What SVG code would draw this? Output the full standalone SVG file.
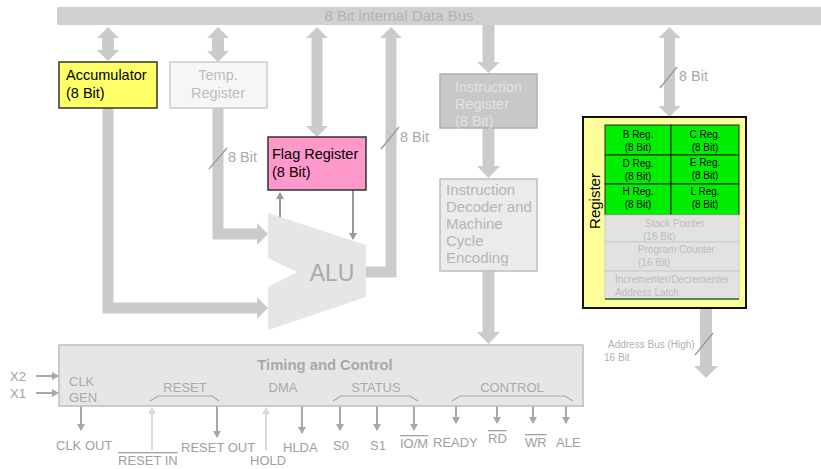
<svg xmlns="http://www.w3.org/2000/svg" width="821" height="469" viewBox="0 0 821 469">
<defs>
<marker id="ah" markerWidth="8" markerHeight="8" refX="6" refY="4" orient="auto" markerUnits="userSpaceOnUse"><path d="M0,0 L7,4 L0,8 z" fill="#a8a8a8"/></marker>
<marker id="ahl" markerWidth="8" markerHeight="8" refX="6" refY="4" orient="auto" markerUnits="userSpaceOnUse"><path d="M0,0 L7,4 L0,8 z" fill="#dadada"/></marker>
<marker id="ahd" markerWidth="8" markerHeight="8" refX="6" refY="4" orient="auto" markerUnits="userSpaceOnUse"><path d="M0,0 L7,4 L0,8 z" fill="#999"/></marker>
</defs>
<style>
text{font-family:"Liberation Sans",Arial,sans-serif}
.big{fill:#cbcbcb}
.bigs{fill:none;stroke:#cbcbcb;stroke-width:11;stroke-linejoin:miter}
.lbl{font-size:13px;fill:#aaaaaa}
.lbl2{font-size:14.5px;fill:#aaaaaa}
.blk{font-size:14.5px;fill:#000}
.sm{font-size:10px;fill:#000}
.smg{font-size:10px;fill:#bdbdbd}
.pin{stroke:#a8a8a8;stroke-width:2;fill:none;marker-end:url(#ah)}
.pinl{stroke:#dadada;stroke-width:2;fill:none;marker-end:url(#ahl)}
.brace{stroke:#aaaaaa;stroke-width:1.2;fill:none}
.slash{stroke:#999;stroke-width:1.3}
.g{fill:#00ee00;stroke:#222;stroke-width:1}
.gr{fill:#e2e2e2;stroke:#cccccc;stroke-width:1}
</style>

<g id="connectors">
  <polygon class="big" points="108,27 119,38 114,38 114,50 119,50 108,61 97,50 102,50 102,38 97,38"/>
  <polygon class="big" points="218,27 229,38 224,38 224,51 229,51 218,62 207,51 212,51 212,38 207,38"/>
  <polygon class="big" points="317,27 328,38 322.5,38 322.5,126 328,126 317,137 306,126 311.5,126 311.5,38 306,38"/>
  <polyline class="bigs" points="366,272 391,272 391,37"/>
  <polygon class="big" points="380,38 402,38 391,27"/>
  <polyline class="bigs" points="108,108 108,308 258,308"/>
  <polygon class="big" points="257,297 257,319 268,308"/>
  <polyline class="bigs" points="218,108 218,234 258,234"/>
  <polygon class="big" points="257,223 257,245 268,234"/>
  <rect class="big" x="482.5" y="25" width="12" height="38"/>
  <polygon class="big" points="477,62 500,62 488.5,73"/>
  <rect class="big" x="482.5" y="128" width="12" height="40"/>
  <polygon class="big" points="477,166 500,166 488.5,178"/>
  <rect class="big" x="482.5" y="271" width="12" height="62"/>
  <polygon class="big" points="477,332 500,332 488.5,344"/>
  <polygon class="big" points="669.5,27 680.5,38 675,38 675,106 680.5,106 669.5,117 658.5,106 664,106 664,38 658.5,38"/>
  <rect class="big" x="700" y="308" width="12" height="60"/>
  <polygon class="big" points="694,366 718,366 706,378"/>
  <line class="slash" x1="209" y1="169" x2="227" y2="148"/>
  <line class="slash" x1="381" y1="149" x2="399" y2="127"/>
  <line class="slash" x1="660" y1="88" x2="677" y2="67"/>
  <line class="slash" x1="695" y1="355" x2="713" y2="333"/>
  <text class="lbl2" x="228" y="162">8 Bit</text>
  <text class="lbl2" x="400" y="142">8 Bit</text>
  <text class="lbl2" x="679" y="81">8 Bit</text>
  <text class="smg" x="608" y="348" style="fill:#b0b0b0">Address Bus (High)</text>
  <text class="smg" x="604" y="361" style="fill:#b0b0b0">16 Bit</text>
  <line x1="280" y1="218" x2="280" y2="193" stroke="#999" stroke-width="2" marker-end="url(#ahd)"/>
  <line x1="353" y1="190" x2="353" y2="239" stroke="#999" stroke-width="2" marker-end="url(#ahd)"/>
  <line class="pin" x1="36" y1="376" x2="58" y2="376"/>
  <line class="pin" x1="36" y1="393" x2="58" y2="393"/>
  <line class="pin" x1="81" y1="406" x2="81" y2="430"/>
  <line class="pinl" x1="152" y1="450" x2="152" y2="408"/>
  <line class="pin" x1="217" y1="406" x2="217" y2="437"/>
  <line class="pinl" x1="266" y1="450" x2="266" y2="408"/>
  <line class="pin" x1="302" y1="406" x2="302" y2="433"/>
  <line class="pin" x1="340" y1="406" x2="340" y2="430"/>
  <line class="pin" x1="377" y1="406" x2="377" y2="430"/>
  <line class="pin" x1="414" y1="406" x2="414" y2="430"/>
  <line class="pin" x1="456" y1="406" x2="456" y2="423"/>
  <line class="pin" x1="497" y1="406" x2="497" y2="423"/>
  <line class="pin" x1="533" y1="406" x2="533" y2="423"/>
  <line class="pin" x1="566" y1="406" x2="566" y2="423"/>
</g>

<g id="bus">
  <rect x="57" y="7" width="764" height="18" fill="#d0d0d0"/>
  <text x="399" y="21" text-anchor="middle" style="font-size:15px;fill:#b3b3b3">8 Bit internal Data Bus</text>
</g>

<g id="accumulator">
  <rect x="59" y="62" width="98" height="46" fill="#ffff66" stroke="#333" stroke-width="1.5"/>
  <text class="blk" x="66" y="80">Accumulator</text>
  <text class="blk" x="66" y="98">(8 Bit)</text>
</g>

<g id="temp">
  <rect x="170" y="62" width="97" height="46" fill="#f6f6f6" stroke="#cccccc" stroke-width="1.5"/>
  <text class="lbl2" x="218" y="80" text-anchor="middle" style="fill:#bdbdbd">Temp.</text>
  <text class="lbl2" x="218" y="98" text-anchor="middle" style="fill:#bdbdbd">Register</text>
</g>

<g id="flag">
  <rect x="268" y="137" width="98" height="53" fill="#ff99cc" stroke="#333" stroke-width="1.5"/>
  <text class="blk" x="272" y="159">Flag Register</text>
  <text class="blk" x="272" y="177">(8 Bit)</text>
</g>

<g id="alu">
  <polygon points="268,213 366,245 366,297 268,330 268,287 297,272 268,258" fill="#e6e6e6"/>
  <text x="332" y="281" text-anchor="middle" style="font-size:23px;fill:#aaaaaa">ALU</text>
</g>

<g id="ir">
  <rect x="440" y="74" width="97" height="54" fill="#c8c8c8" stroke="#b0b0b0" stroke-width="1.5"/>
  <text class="lbl2" x="455" y="92" style="fill:#e2e2e2">Instruction</text>
  <text class="lbl2" x="455" y="109" style="fill:#e2e2e2">Register</text>
  <text class="lbl2" x="455" y="126" style="fill:#e2e2e2">(8 Bit)</text>
</g>

<g id="decoder">
  <rect x="440" y="179" width="97" height="92" fill="#ebebeb" stroke="#bdbdbd" stroke-width="1.5"/>
  <g style="font-size:15px;fill:#b5b5b5">
  <text x="446" y="195">Instruction</text>
  <text x="446" y="212">Decoder and</text>
  <text x="446" y="229">Machine</text>
  <text x="446" y="246">Cycle</text>
  <text x="446" y="263">Encoding</text>
  </g>
</g>

<g id="register">
  <rect x="583" y="117" width="163" height="191" fill="#ffff99" stroke="#111" stroke-width="2"/>
  <text class="blk" transform="translate(600,201) rotate(-90)" text-anchor="middle" style="font-size:15px">Register</text>
  <rect class="g" x="605" y="125" width="66" height="30"/>
  <rect class="g" x="671" y="125" width="68" height="30"/>
  <rect class="g" x="605" y="155" width="66" height="29"/>
  <rect class="g" x="671" y="155" width="68" height="29"/>
  <rect class="g" x="605" y="184" width="66" height="31"/>
  <rect class="g" x="671" y="184" width="68" height="31"/>
  <text class="sm" x="638" y="138" text-anchor="middle">B Reg.</text>
  <text class="sm" x="638" y="151" text-anchor="middle">(8 Bit)</text>
  <text class="sm" x="705" y="138" text-anchor="middle">C Reg.</text>
  <text class="sm" x="705" y="151" text-anchor="middle">(8 Bit)</text>
  <text class="sm" x="638" y="167" text-anchor="middle">D Reg.</text>
  <text class="sm" x="638" y="180" text-anchor="middle">(8 Bit)</text>
  <text class="sm" x="705" y="166" text-anchor="middle">E Reg.</text>
  <text class="sm" x="705" y="179" text-anchor="middle">(8 Bit)</text>
  <text class="sm" x="638" y="195" text-anchor="middle">H Reg.</text>
  <text class="sm" x="638" y="208" text-anchor="middle">(8 Bit)</text>
  <text class="sm" x="705" y="195" text-anchor="middle">L Reg.</text>
  <text class="sm" x="705" y="208" text-anchor="middle">(8 Bit)</text>
  <rect class="gr" x="605" y="215" width="134" height="27"/>
  <rect class="gr" x="605" y="242" width="134" height="29"/>
  <rect class="gr" x="605" y="271" width="134" height="28"/>
  <line x1="605" y1="299" x2="739" y2="299" stroke="#336633" stroke-width="1.5"/>
  <text class="smg" x="645" y="227">Stack Pointer</text>
  <text class="smg" x="643" y="240">(16 Bit)</text>
  <text class="smg" x="638" y="253">Program Counter</text>
  <text class="smg" x="638" y="266">(16 Bit)</text>
  <text class="smg" x="615" y="283">Incrementer/Decrementer</text>
  <text class="smg" x="615" y="296">Address Latch</text>
</g>

<g id="timing">
  <rect x="59" y="345" width="524" height="61" fill="#e6e6e6" stroke="#bdbdbd" stroke-width="1.5"/>
  <text x="325" y="370" text-anchor="middle" style="font-size:14.8px;font-weight:bold;fill:#a8a8a8">Timing and Control</text>
  <text class="lbl" x="69" y="386">CLK</text>
  <text class="lbl" x="69" y="402">GEN</text>
  <text class="lbl" x="185" y="392" text-anchor="middle">RESET</text>
  <text class="lbl" x="283" y="392" text-anchor="middle">DMA</text>
  <text class="lbl" x="376" y="392" text-anchor="middle">STATUS</text>
  <text class="lbl" x="512" y="392" text-anchor="middle">CONTROL</text>
  <path class="brace" d="M150,401 L158,396 L212,396 L219,401"/>
  <path class="brace" d="M333,401 L341,396 L410,396 L418,401"/>
  <path class="brace" d="M452,401 L460,396 L565,396 L573,401"/>
</g>

<g id="pins" style="font-size:13px;fill:#a0a0a0">
  <text x="10" y="381">X2</text>
  <text x="10" y="398">X1</text>
  <text x="56" y="450">CLK OUT</text>
  <text x="118" y="465" text-decoration="overline">RESET IN</text>
  <text x="181" y="452">RESET OUT</text>
  <text x="250" y="465">HOLD</text>
  <text x="283" y="452">HLDA</text>
  <text x="333" y="450">S0</text>
  <text x="370" y="450">S1</text>
  <text x="400" y="448" text-decoration="overline">IO/M</text>
  <text x="433" y="447">READY</text>
  <text x="488" y="443" text-decoration="overline">RD</text>
  <text x="525" y="447" text-decoration="overline">WR</text>
  <text x="556" y="447">ALE</text>
</g>
</svg>
